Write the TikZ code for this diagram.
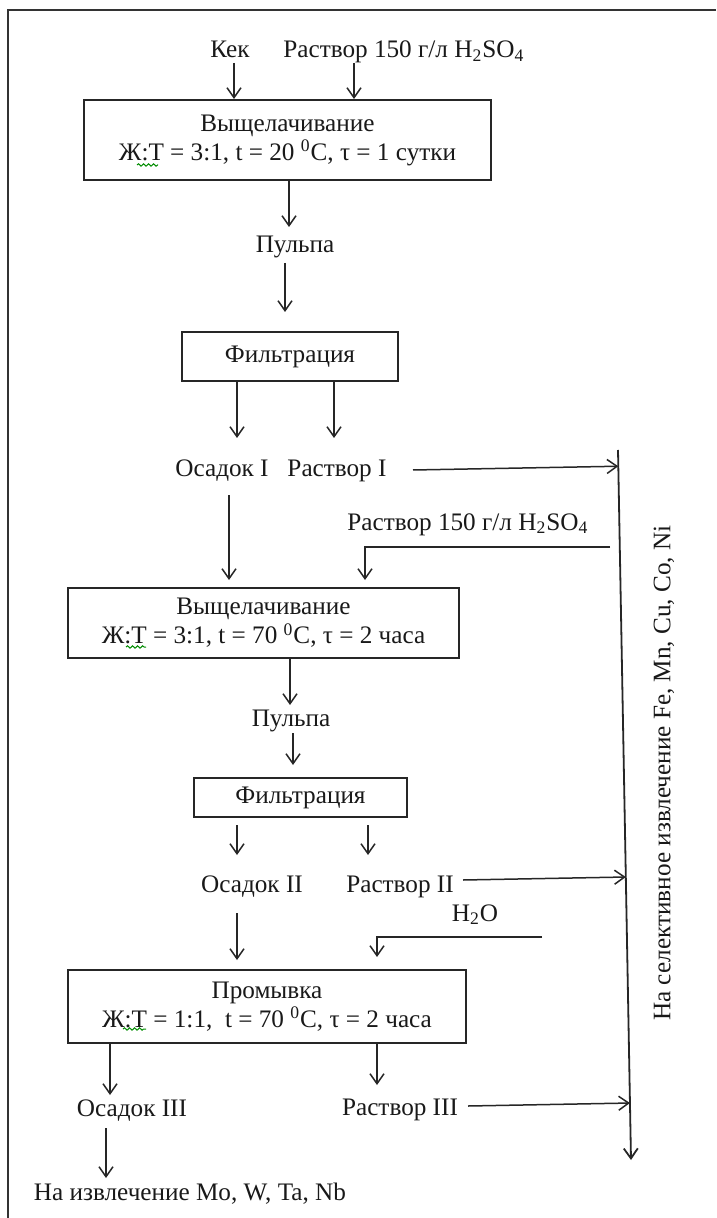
\documentclass[tikz,border=0pt]{standalone}
\usepackage{fontspec}
\setmainfont{Liberation Serif}
\usetikzlibrary{arrows.meta,calc,decorations.pathmorphing}
\begin{document}
\def\u{0.5pt}
\begin{tikzpicture}[x=0.5pt,y=-0.5pt,
  every node/.style={font=\fontsize{12.6}{14.5}\selectfont, inner sep=0pt, text=black!90},
  lbl/.style={anchor=base},
  box/.style={draw=black!85, line width=1pt, align=center, inner sep=0pt},
  arr/.style={-{Straight Barb[length=5pt,width=7pt]}, line width=0.75pt, draw=black!85},
  frame/.style={line width=1pt, draw=black!80},
  squig/.style={draw=green!55!black, line width=0.5pt, decorate,
    decoration={snake, amplitude=0.6pt, segment length=2.5pt}}]
\useasboundingbox (0,0) rectangle (716,1218);
\fill[white] (0,0) rectangle (716,1218);
% outer frame (only top and left visible)
\draw[frame] (716,10) -- (8,10) -- (8,1218);

% ---- nodes ----
\node[lbl] (k) at (230,58) {Кек};
\node[lbl, anchor=base west] (r0) at (283,58) {Раствор 150 г/л H\textsubscript{2}SO\textsubscript{4}};
\node[box, minimum width=407*\u, minimum height=80*\u] (b1) at (287.5,140)
  {Выщелачивание\\Ж:Т = 3:1, t = 20 \textsuperscript{0}C, τ = 1 сутки};
\node[lbl] (p1) at (295,253) {Пульпа};
\node[box, minimum width=216*\u, minimum height=49*\u] (f1) at (290,356.5) {Фильтрация};
\node[lbl] (o1) at (222,476) {Осадок I};
\node[lbl] (r1) at (337,476) {Раствор I};
\node[lbl, anchor=base west] (r2t) at (347,530) {Раствор 150 г/л H\textsubscript{2}SO\textsubscript{4}};
\node[box, minimum width=391*\u, minimum height=70*\u] (b2) at (263.5,623)
  {Выщелачивание\\Ж:Т = 3:1, t = 70 \textsuperscript{0}C, τ = 2 часа};
\node[lbl] (p2) at (291,726) {Пульпа};
\node[box, minimum width=213*\u, minimum height=39*\u] (f2) at (300.5,797.5) {Фильтрация};
\node[lbl] (o2) at (252,892) {Осадок II};
\node[lbl] (r2) at (400,892) {Раствор II};
\node[lbl] (h2o) at (475,921) {H\textsubscript{2}O};
\node[box, minimum width=398*\u, minimum height=73*\u] (b3) at (267,1006.5)
  {Промывка\\Ж:Т = 1:1,\ \ t = 70 \textsuperscript{0}C, τ = 2 часа};
\node[lbl] (o3) at (132,1116) {Осадок III};
\node[lbl] (r3) at (400,1115) {Раствор III};
\node[lbl] (fin) at (190,1200) {На извлечение Mo, W, Ta, Nb};
\node[rotate=90] (side) at (664,773) {На селективное извлечение Fe, Mn, Cu, Co, Ni};

% spell-check squiggles
\draw[squig] (137,165) -- (158,165);
\draw[squig] (126,647) -- (146,647);
\draw[squig] (123,1029) -- (146,1029);

% ---- collector line ----
\coordinate (vt) at (618,450);
\coordinate (vb) at (631,1160);
\draw[arr, line width=0.9pt] (vt) -- (vb);

% ---- connectors ----
\coordinate (a1) at (234,63);
\draw[arr] (a1) -- (a1 |- b1.north);
\coordinate (a2) at (354,63);
\draw[arr] (a2) -- (a2 |- b1.north);
\coordinate (a3) at (289,227);
\draw[arr] (a3 |- b1.south) -- (a3);
\coordinate (a4s) at (285,263);
\coordinate (a4e) at (285,312);
\draw[arr] (a4s) -- (a4e);
\coordinate (a5) at (237,438);
\draw[arr] (a5 |- f1.south) -- (a5);
\coordinate (a6) at (334,438);
\draw[arr] (a6 |- f1.south) -- (a6);
\coordinate (a7) at (413,470);
\draw[arr] (a7) -- ($(vt)!(a7)!(vb)$);
\coordinate (a8s) at (229,495);
\coordinate (a8e) at (229,580);
\draw[arr] (a8s) -- (a8e);
\coordinate (a9s) at (610,547);
\coordinate (a9e) at (365,580);
\draw[arr] (a9s) -| (a9e);
\coordinate (a10) at (290,705);
\draw[arr] (a10 |- b2.south) -- (a10);
\coordinate (a11s) at (293,733);
\coordinate (a11e) at (293,765);
\draw[arr] (a11s) -- (a11e);
\coordinate (a12s) at (237,825);
\coordinate (a12e) at (237,855);
\draw[arr] (a12s) -- (a12e);
\coordinate (a13s) at (368,825);
\coordinate (a13e) at (368,855);
\draw[arr] (a13s) -- (a13e);
\coordinate (a14) at (463,880);
\draw[arr] (a14) -- ($(vt)!(a14)!(vb)$);
\coordinate (a15s) at (237,913);
\coordinate (a15e) at (237,960);
\draw[arr] (a15s) -- (a15e);
\coordinate (a16s) at (542,937);
\coordinate (a16e) at (377,957);
\draw[arr] (a16s) -| (a16e);
\coordinate (a17) at (110,1095);
\draw[arr] (a17 |- b3.south) -- (a17);
\coordinate (a18) at (377,1085);
\draw[arr] (a18 |- b3.south) -- (a18);
\coordinate (a19) at (468,1106);
\draw[arr] (a19) -- ($(vt)!(a19)!(vb)$);
\coordinate (a20s) at (106,1128);
\coordinate (a20e) at (106,1178);
\draw[arr] (a20s) -- (a20e);
\end{tikzpicture}
\end{document}
